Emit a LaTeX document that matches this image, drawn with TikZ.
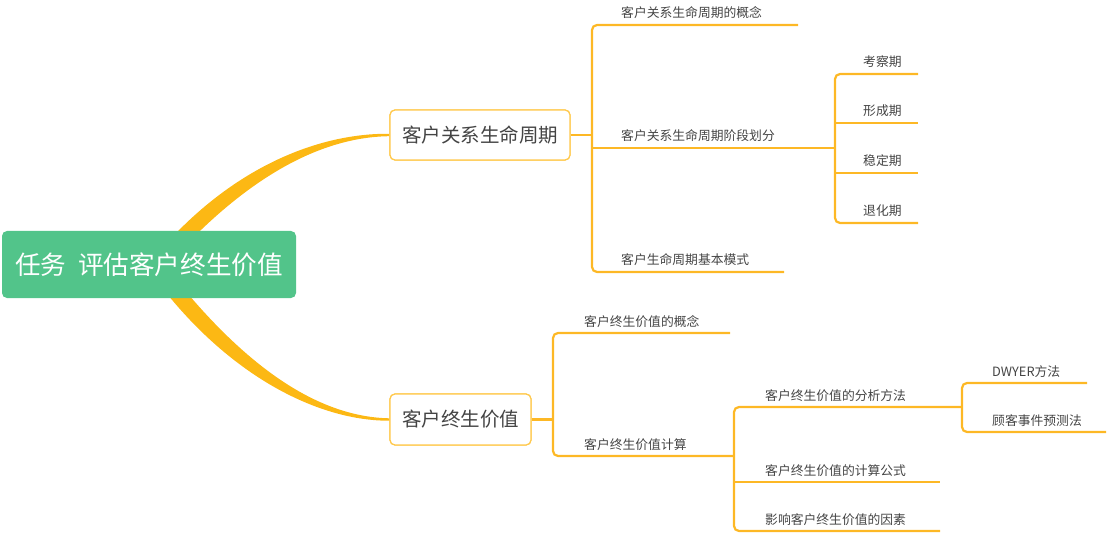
\documentclass[tikz,border=0pt]{standalone}
\usepackage{fontspec}
\newfontfamily\cjk{Noto Sans CJK SC}
\usetikzlibrary{calc}
\definecolor{brc}{HTML}{FDB825}
\definecolor{cvc}{HTML}{FCB814}
\definecolor{rootc}{HTML}{52C48A}
\definecolor{bdc}{HTML}{FFC94D}
\definecolor{txc}{HTML}{444444}
\begin{document}
\begin{tikzpicture}[x=1pt,y=-1pt,
  br/.style={draw=brc,line width=2.2pt,rounded corners=5pt},
  leaf/.style={anchor=base west,inner sep=0pt,text=txc,font=\cjk\fontsize{12.8}{14}\selectfont},
  midbox/.style={draw=bdc,line width=1.2pt,fill=white,rounded corners=5pt,text=txc,font=\cjk\fontsize{19.5}{22}\selectfont,inner sep=0pt},
  rootbox/.style={fill=rootc,rounded corners=5pt,text=white,font=\cjk\fontsize{25.6}{28}\selectfont,inner sep=0pt,minimum width=294pt,minimum height=67pt}]
\useasboundingbox (0,0) rectangle (1118,537);

% main nodes
\node[midbox,minimum width=180pt,minimum height=50pt] (b1) at (480,135) {客户关系生命周期};
\node[midbox,minimum width=141pt,minimum height=51pt] (b2) at (460.5,419.5) {客户终生价值};

% tapered curves from root
\coordinate (ta) at (165,245);
\coordinate (tb) at (183,248);
\coordinate (la) at (160,285);
\coordinate (lb) at (178,282);
\fill[cvc] (ta) .. controls (236,166) and (320,133) .. ([yshift=1.2pt]b1.west) -- ([yshift=-1.2pt]b1.west) .. controls (320,137) and (250,178) .. (tb) -- cycle;
\fill[cvc] (la) .. controls (232,378) and (320,421) .. ([yshift=-1.2pt]b2.west) -- ([yshift=1.2pt]b2.west) .. controls (320,417) and (250,370) .. (lb) -- cycle;

\node[rootbox] (root) at (149,264.5) {任务\hspace{12pt}评估客户终生价值};
% redraw node boxes above curves
\node[midbox,minimum width=180pt,minimum height=50pt] at (b1) {客户关系生命周期};
\node[midbox,minimum width=141pt,minimum height=51pt] at (b2) {客户终生价值};

% branch 1
\coordinate (s1) at (592,148);
\coordinate (a1e) at (798,25);
\coordinate (a3e) at (784,272);
\coordinate (s2) at (835,148);
\node[leaf] (a1) at (621,18) {客户关系生命周期的概念};
\node[leaf] (a2) at (621,141) {客户关系生命周期阶段划分};
\node[leaf] (a3) at (621,265) {客户生命周期基本模式};
\draw[br] (b1.east) -- (b1.east -| s1);
\draw[br] (a1e) -| (s1) |- (a3e);
\draw[br] (s1) -- (s2);

% stages
\coordinate (p1e) at (918,74);
\coordinate (p2e) at (918,123);
\coordinate (p3e) at (918,173);
\coordinate (p4e) at (918,223);
\node[leaf] (p1) at (863,67) {考察期};
\node[leaf] (p2) at (863,116) {形成期};
\node[leaf] (p3) at (863,166) {稳定期};
\node[leaf] (p4) at (863,216) {退化期};
\draw[br] (p1e) -| (s2) |- (p4e);
\draw[br] (s2 |- p2e) -- (p2e);
\draw[br] (s2 |- p3e) -- (p3e);

% branch 2
\coordinate (s3) at (553,419.5);
\coordinate (k1e) at (730,333);
\coordinate (s4) at (734,456);
\node[leaf] (k1) at (584,326) {客户终生价值的概念};
\node[leaf] (k2) at (584,449) {客户终生价值计算};
\draw[br] (b2.east) -- (s3);
\draw[br] (k1e) -| (s3) |- (s4);

% calculation
\coordinate (s5) at (962,407);
\coordinate (m2e) at (940,482);
\coordinate (m3e) at (940,531);
\node[leaf] (m1) at (765,400) {客户终生价值的分析方法};
\node[leaf] (m2) at (765,475) {客户终生价值的计算公式};
\node[leaf] (m3) at (765,524) {影响客户终生价值的因素};
\draw[br] (s5) -| (s4) |- (m3e);
\draw[br] (s4 |- m2e) -- (m2e);

% analysis methods
\coordinate (d1e) at (1087,383);
\coordinate (d2e) at (1106,432);
\node[leaf] (d1) at (992,376) {DWYER方法};
\node[leaf] (d2) at (992,425) {顾客事件预测法};
\draw[br] (d1e) -| (s5) |- (d2e);
\end{tikzpicture}
\end{document}
